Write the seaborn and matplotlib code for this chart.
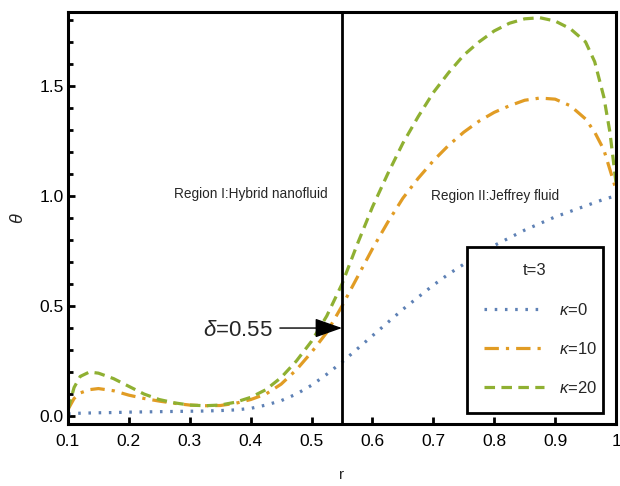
import matplotlib
matplotlib.use("Agg")
import matplotlib.pyplot as plt
from matplotlib.ticker import MultipleLocator, FixedLocator
import seaborn as sns
import pandas as pd

# ---- data ----
r = [0.1, 0.11, 0.12, 0.135, 0.15, 0.175, 0.2, 0.225, 0.25, 0.275, 0.3, 0.325,
     0.35, 0.375, 0.4, 0.425, 0.45, 0.475, 0.5, 0.525, 0.55, 0.575, 0.6, 0.625,
     0.65, 0.675, 0.7, 0.725, 0.75, 0.775, 0.8, 0.825, 0.85, 0.875, 0.9, 0.925,
     0.95, 0.965, 0.98, 0.99, 1.0]
theta_k0 = [0.01, 0.012, 0.013, 0.014, 0.015, 0.016, 0.018, 0.019, 0.02, 0.021, 0.022, 0.023,
            0.025, 0.028, 0.035, 0.05, 0.07, 0.1, 0.14, 0.19, 0.245, 0.305, 0.365, 0.425,
            0.485, 0.54, 0.595, 0.645, 0.69, 0.735, 0.775, 0.81, 0.845, 0.875, 0.905, 0.93,
            0.955, 0.97, 0.985, 0.993, 1.0]
theta_k10 = [0.03, 0.08, 0.105, 0.12, 0.125, 0.115, 0.095, 0.08, 0.068, 0.058, 0.05, 0.047,
             0.048, 0.058, 0.075, 0.1, 0.145, 0.21, 0.29, 0.38, 0.5, 0.63, 0.76, 0.88,
             0.99, 1.08, 1.16, 1.23, 1.29, 1.34, 1.38, 1.41, 1.435, 1.445, 1.44, 1.41,
             1.35, 1.29, 1.21, 1.12, 1.03]
theta_k20 = [0.03, 0.13, 0.18, 0.2, 0.195, 0.17, 0.135, 0.1, 0.075, 0.06, 0.05, 0.047,
             0.05, 0.063, 0.085, 0.12, 0.175, 0.25, 0.34, 0.455, 0.6, 0.78, 0.95, 1.1,
             1.24, 1.36, 1.47, 1.56, 1.64, 1.7, 1.75, 1.785, 1.805, 1.81, 1.795, 1.76,
             1.7, 1.61, 1.45, 1.29, 1.06]
series_labels = [r"$\kappa$=0", r"$\kappa$=10", r"$\kappa$=20"]
legend_title = "t=3"
x_ticks = [0.1, 0.2, 0.3, 0.4, 0.5, 0.6, 0.7, 0.8, 0.9, 1.0]
x_ticklabels = ["0.1", "0.2", "0.3", "0.4", "0.5", "0.6", "0.7", "0.8", "0.9", "1"]
y_ticks = [0.0, 0.5, 1.0, 1.5]
y_ticklabels = ["0.0", "0.5", "1.0", "1.5"]
delta = 0.55
region1_text = "Region I:Hybrid nanofluid"
region2_text = "Region II:Jeffrey fluid"
delta_text = r"$\delta$=0.55"

# ---- style ----
sns.set_style("ticks")
plt.rcParams["font.family"] = ["Liberation Sans", "DejaVu Sans"]
plt.rcParams["mathtext.fontset"] = "custom"
plt.rcParams["mathtext.it"] = "Liberation Sans:italic"
plt.rcParams["mathtext.rm"] = "Liberation Sans"
plt.rcParams["mathtext.default"] = "it"

colors = ["#5e81b5", "#e19c24", "#8fb032"]
styles = [(0, (0.8, 2.4)), (0, (4.5, 2.2, 1, 2.2)), (0, (3.3, 2.0))]
lw = 2.3

fig = plt.figure(figsize=(6.2, 4.86), dpi=100)
ax = fig.add_axes([68 / 620, 1 - 424 / 486, 548 / 620, 412 / 486])

df = pd.DataFrame({"r": r, "k0": theta_k0, "k10": theta_k10, "k20": theta_k20})
for col, lab, c, ls in zip(["k0", "k10", "k20"], series_labels, colors, styles):
    sns.lineplot(data=df, x="r", y=col, ax=ax, color=c, linewidth=lw,
                 label=lab, sort=False)
    ax.lines[-1].set_linestyle(ls)

ax.axvline(delta, color="black", lw=2.0, zorder=5)

ax.set_xlim(0.1, 1.0)
ax.set_ylim(-0.036, 1.836)

ax.xaxis.set_major_locator(FixedLocator(x_ticks))
ax.set_xticklabels(x_ticklabels)
ax.yaxis.set_major_locator(FixedLocator(y_ticks))
ax.set_yticklabels(y_ticklabels)
ax.yaxis.set_minor_locator(MultipleLocator(0.1))

ax.tick_params(axis="both", which="both", direction="in", top=False, right=False,
               colors="black", labelsize=12.5)
ax.tick_params(axis="x", which="major", length=5, width=2, pad=7)
ax.tick_params(axis="y", which="major", length=5, width=2, pad=3)
ax.tick_params(axis="y", which="minor", length=3.5, width=2)

for s in ax.spines.values():
    s.set_visible(True)
    s.set_linewidth(2.2)
    s.set_color("black")

ax.set_xlabel("r", fontsize=11, labelpad=14)
ax.set_ylabel(r"$\theta$", fontsize=13, labelpad=9)

ax.text(0.4005, 1.01, region1_text, fontsize=9.8, ha="center", va="center")
ax.text(0.801, 1.0, region2_text, fontsize=9.8, ha="center", va="center")
ax.text(0.379, 0.39, delta_text, fontsize=16, ha="center", va="center")
ax.annotate("", xy=(delta, 0.40), xytext=(0.448, 0.40),
            arrowprops=dict(arrowstyle="-|>,head_length=1.7,head_width=0.6",
                            color="black", lw=1.0, shrinkA=0, shrinkB=0),
            zorder=6)

leg = ax.legend(title=legend_title, loc="lower left",
                bbox_to_anchor=(0.728, 0.027, 0.248, 0.388), mode="expand",
                borderaxespad=0, fancybox=False, framealpha=1, edgecolor="black",
                fontsize=12, title_fontsize=12, handlelength=3.6, handletextpad=0.9,
                labelspacing=1.4, borderpad=1.0)
leg.get_frame().set_linewidth(2.0)
leg.set_zorder(10)

fig.savefig("out.png", dpi=100)
